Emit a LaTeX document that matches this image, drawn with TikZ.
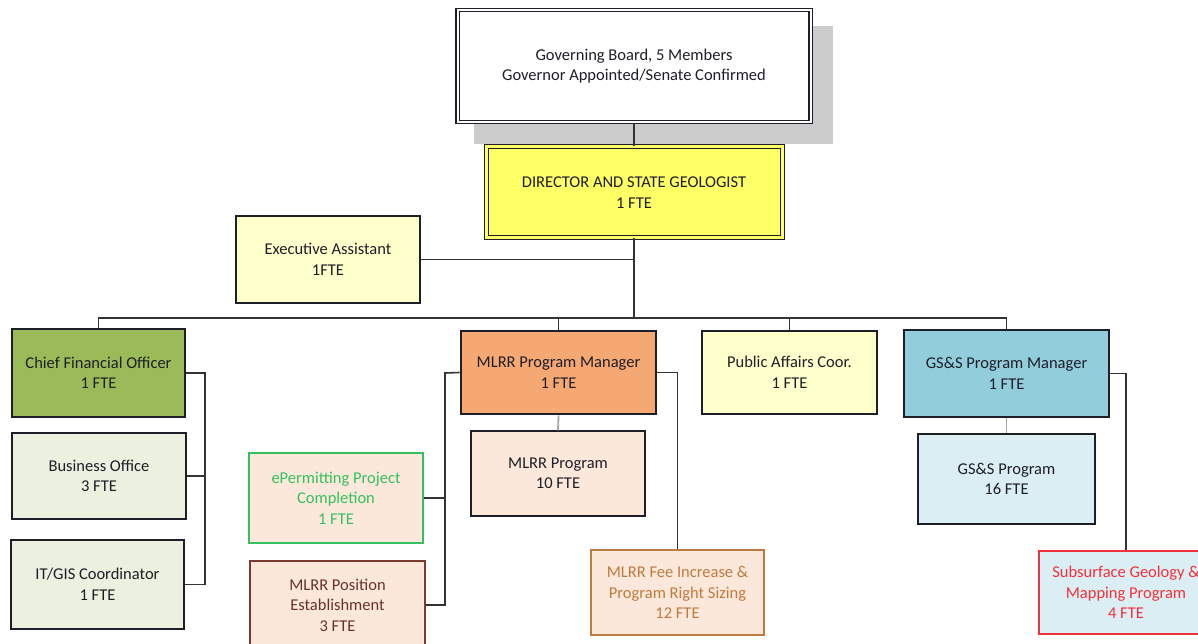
\documentclass[tikz,border=0pt]{standalone}
\usepackage{fontspec}
\setmainfont{Carlito}
\definecolor{txt}{HTML}{1E1E28}
\definecolor{ln}{HTML}{333333}
\definecolor{shadowc}{HTML}{CCCCCC}
\definecolor{diry}{HTML}{FFFF66}
\definecolor{paley}{HTML}{FFFFCC}
\definecolor{cfog}{HTML}{9BBB59}
\definecolor{paleg}{HTML}{EBF1DE}
\definecolor{mlo}{HTML}{F6A872}
\definecolor{paleo}{HTML}{FBE8DB}
\definecolor{gsb}{HTML}{92CDDC}
\definecolor{paleb}{HTML}{DBEEF4}
\definecolor{epg}{HTML}{33C060}
\definecolor{posb}{HTML}{7A3B2E}
\definecolor{feeo}{HTML}{BF7A3E}
\definecolor{ssr}{HTML}{F0303A}
\begin{document}
\begin{tikzpicture}[x=1pt,y=-1pt,
  box/.style={draw=txt, line width=1.4pt, align=center, inner sep=0pt, text=txt,
    font=\fontsize{16.5}{20.5}\selectfont},
  mgr/.style={box, line width=2.8pt},
  conn/.style={draw=ln, line width=1.6pt},
  subconn/.style={draw=gray!70, line width=1.8pt}]
\useasboundingbox (0,0) rectangle (1198,644);
\clip (0,0) rectangle (1198,644);
% shadow of board
\fill[shadowc] (474,26) rectangle (833,144);
% nodes
\node[box, fill=white, double=white, double distance=2pt, line width=1.2pt,
  minimum width=353, minimum height=112] (board) at (634,66)
  {Governing Board, 5 Members\\Governor Appointed/Senate Confirmed};
\node[box, fill=diry, double=diry, double distance=3pt, line width=1pt,
  minimum width=296, minimum height=91] (dir) at (634,192.5)
  {DIRECTOR AND STATE GEOLOGIST\\1 FTE};
\node[box, fill=paley, minimum width=184, minimum height=87] (exec) at (328,259.5)
  {Executive Assistant\\1FTE};
\node[mgr, fill=cfog, minimum width=173, minimum height=88] (cfo) at (98.5,373)
  {Chief Financial Officer\\1 FTE};
\node[box, fill=paleg, minimum width=174, minimum height=86] (bo) at (99,476)
  {Business Office\\3 FTE};
\node[box, fill=paleg, minimum width=173, minimum height=89] (it) at (97.5,584.5)
  {IT/GIS Coordinator\\1 FTE};
\node[mgr, fill=mlo, minimum width=195, minimum height=83] (mlm) at (558.5,372.5)
  {MLRR Program Manager\\1 FTE};
\node[box, fill=paleo, minimum width=174, minimum height=85] (mlp) at (558,473.5)
  {MLRR Program\\10 FTE};
\node[box, fill=paleo, draw=epg, text=epg, minimum width=174, minimum height=90] (ep) at (336,498)
  {ePermitting Project\\Completion\\1 FTE};
\node[box, fill=paleo, draw=posb, text=posb!85!black, minimum width=175, minimum height=88] (pos) at (337.5,605)
  {MLRR Position\\Establishment\\3 FTE};
\node[box, fill=paleo, draw=feeo, text=feeo, minimum width=173, minimum height=85] (fee) at (677.5,592.5)
  {MLRR Fee Increase \&\\Program Right Sizing\\12 FTE};
\node[box, fill=paley, minimum width=175, minimum height=83] (pa) at (789.5,372.5)
  {Public Affairs Coor.\\1 FTE};
\node[mgr, fill=gsb, minimum width=205, minimum height=87] (gsm) at (1006.5,373.5)
  {GS\&S Program Manager\\1 FTE};
\node[box, fill=paleb, minimum width=177, minimum height=90] (gsp) at (1006.5,479)
  {GS\&S Program\\16 FTE};
\node[box, fill=paleb, draw=ssr, text=ssr, minimum width=174, minimum height=83] (ss) at (1126,592.5)
  {Subsurface Geology \&\\Mapping Program\\4 FTE};
% junction coordinates
\coordinate (bus) at (634,318);
\coordinate (cfoj) at (205,373);
\coordinate (mlj) at (445,373);
% connectors
\draw[conn] (board.south) -- (dir.north);
\draw[conn] (dir.south) -- (bus);
\draw[conn] (exec.east) -- (exec.east -| bus);
\draw[conn] (cfo.north) |- (bus) -| (gsm.north);
\draw[conn] (mlm.north) -- (mlm.north |- bus);
\draw[conn] (pa.north) -- (pa.north |- bus);
\draw[conn] (cfo.east) -- (cfoj) |- (it.east);
\draw[conn] (bo.east) -- (bo.east -| cfoj);
\draw[conn] (mlm.west) -- (mlj) |- (pos.east);
\draw[conn] (ep.east) -- (ep.east -| mlj);
\draw[conn] (mlm.east) -| (fee.north);
\draw[conn] (gsm.east) -| (ss.north);
\draw[subconn] (mlm.south) -- (mlp.north);
\draw[subconn] (gsm.south) -- (gsp.north);
\end{tikzpicture}
\end{document}
